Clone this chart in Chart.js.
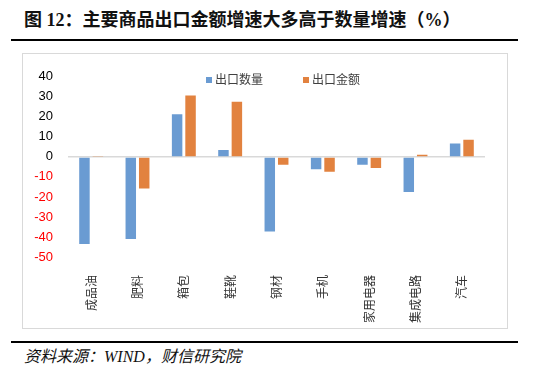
<!DOCTYPE html>
<html>
<head>
<meta charset="utf-8">
<script src="https://cdn.jsdelivr.net/npm/chart.js@4"></script>
<style>
  html, body { margin:0; padding:0; background:#fff; }
  body { width:550px; height:382px; position:relative; overflow:hidden; }
  #title { position:absolute; left:24px; top:8px; font-family:"Liberation Serif","Noto Sans CJK SC",serif; font-weight:bold; font-size:18px; line-height:24px; color:#111; white-space:nowrap; }
  .rule { position:absolute; left:11px; width:507px; height:2px; background:#000; }
  #frame { position:absolute; left:22px; top:53px; width:484px; height:274px; border:1px solid #d9d9d9; }
  #chart { position:absolute; left:0; top:0; }
  #legend { position:absolute; top:70px; left:0; font-family:"Noto Sans CJK SC",sans-serif; font-size:12px; color:#404040; }
  .item { position:absolute; top:0; white-space:nowrap; line-height:18px; }
  .sw { display:inline-block; width:6px; height:6px; margin-right:3px; vertical-align:1px; }
  #source { position:absolute; left:24px; top:346px; font-family:"Liberation Serif","Noto Sans CJK SC",serif; font-style:italic; font-size:16px; line-height:22px; color:#111; white-space:nowrap; }
</style>
</head>
<body>
<div id="title">图 12：主要商品出口金额增速大多高于数量增速（%）</div>
<div class="rule" style="top:39px"></div>
<div id="frame"><canvas id="chart" width="484" height="274"></canvas></div>
<div id="legend"></div>
<div class="rule" style="top:341px"></div>
<div id="source">资料来源：WIND，财信研究院</div>
<script>
const categories = ['成品油','肥料','箱包','鞋靴','钢材','手机','家用电器','集成电路','汽车'];
const seriesNames = ['出口数量','出口金额'];
const exportQuantity = [-43.5, -41.0, 21.3, 3.4, -37.3, -6.2, -3.9, -17.5, 6.7];
const exportValue = [0.5, -15.8, 30.6, 27.6, -3.9, -7.4, -5.5, 1.1, 8.6];
const yTicks = [40, 30, 20, 10, 0, -10, -20, -30, -40, -50];
const colors = ['#6A9BD2', '#E2823F'];

// HTML legend
const legendPos = [206, 303];
const legend = document.getElementById('legend');
seriesNames.forEach((n, i) => {
  const d = document.createElement('div');
  d.className = 'item';
  d.style.left = legendPos[i] + 'px';
  d.innerHTML = '<span class="sw" style="background:' + colors[i] + '"></span>' + n;
  legend.appendChild(d);
});

new Chart(document.getElementById('chart'), {
  type: 'bar',
  data: {
    labels: categories,
    datasets: [
      { label: seriesNames[0], data: exportQuantity, backgroundColor: colors[0], categoryPercentage: 0.58, barPercentage: 0.78 },
      { label: seriesNames[1], data: exportValue, backgroundColor: colors[1], categoryPercentage: 0.58, barPercentage: 0.78 }
    ]
  },
  options: {
    responsive: false,
    animation: false,
    devicePixelRatio: 1,
    layout: { padding: { left: 0, right: 22, top: 22, bottom: 0 } },
    plugins: { legend: { display: false }, tooltip: { enabled: false } },
    scales: {
      x: {
        grid: { display: false },
        border: { display: false },
        ticks: {
          autoSkip: false, minRotation: 90, maxRotation: 90, padding: 10,
          color: '#333', font: { family: '"Noto Sans CJK SC", sans-serif', size: 12 }
        },
        afterFit: (s) => { s.height = 71; }
      },
      y: {
        min: -50, max: 40,
        afterBuildTicks: (s) => { s.ticks = yTicks.map(v => ({ value: v })); },
        grid: {
          drawTicks: false,
          color: (c) => (c.tick && c.tick.value === 0) ? '#d9d9d9' : 'rgba(0,0,0,0)',
          lineWidth: (c) => (c.tick && c.tick.value === 0) ? 1.5 : 0
        },
        border: { display: false },
        ticks: {
          padding: 15,
          color: (c) => (c.tick && c.tick.value < 0) ? '#ff0000' : '#000000',
          font: { family: '"Liberation Sans", Arial, sans-serif', size: 13 }
        },
        afterFit: (s) => { s.width = 45; }
      }
    }
  }
});
</script>
</body>
</html>
